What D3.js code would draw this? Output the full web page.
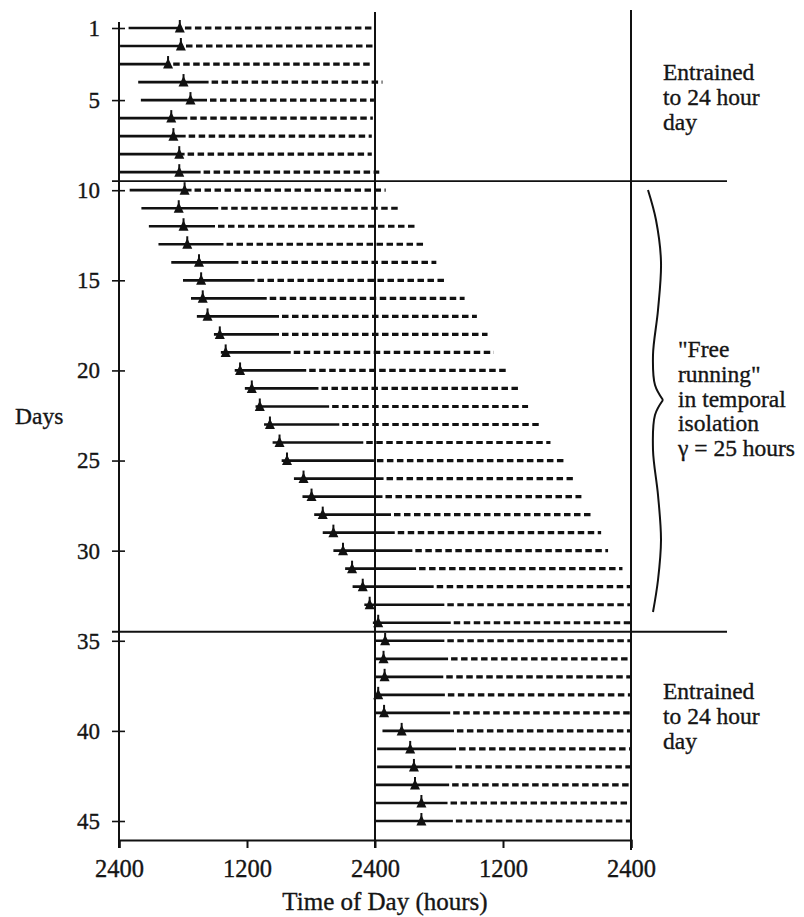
<!DOCTYPE html>
<html><head><meta charset="utf-8">
<script src="https://cdn.jsdelivr.net/npm/d3@7"></script>
<style>
body{margin:0;background:#fff}
text{font-family:"Liberation Serif","Times New Roman",serif;fill:#151515;stroke:#151515;stroke-width:0.35px}
</style>
</head><body>
<svg id="c" width="804" height="917"></svg>
<script>
// ---- data (hours after the left-hand 2400; 24 = middle 2400, 48 = right 2400) ----
const days = d3.range(1, 46);
const solidStart = [0.9,0.1,0,1.8,2.05,0,0,0,0,1.0,
  2.1,2.8,3.7,4.9,6.0,6.75,7.3,8.9,9.55,10.85,
  11.8,12.8,13.6,14.4,15.25,16.4,17.2,18.3,19.1,20.1,
  21.2,21.9,23.0,23.8,24,24,24,24,24,24.7,
  24.2,24.2,24,24,24];
const markerTime = [5.7,5.8,4.6,6.05,6.7,4.9,5.1,5.65,5.65,6.15,
  5.6,6.05,6.4,7.5,7.7,7.85,8.3,9.45,10.0,11.35,
  12.45,13.2,14.15,15.05,15.75,17.3,18.05,19.1,20.1,21.0,
  21.85,22.85,23.5,24.3,24.95,24.8,24.9,24.3,24.85,26.5,
  27.3,27.65,27.75,28.35,28.35];
const solidEnd = [5.9,6.0,4.8,8.4,8.25,6.4,6.25,6.15,7.65,6.8,
  9.3,9.0,9.8,11.2,12.7,13.85,15.0,15.0,16.1,17.55,
  18.7,19.7,20.65,22.9,23.9,24.8,24.7,25.5,25.85,27.5,
  27.85,29.5,30.5,31.1,30.5,30.85,30.4,30.55,31.05,31.4,
  31.6,31.25,30.95,30.8,31.3];
const dashEnd = [24,23.8,23.8,24.7,23.9,23.8,23.7,23.7,24.4,25.0,
  26.3,27.75,28.75,29.75,30.75,32.4,33.55,34.55,35.15,36.4,
  37.4,38.35,39.35,40.45,41.7,42.55,43.35,44.35,45.2,45.85,
  47.2,48,48,48,48,48,48,48,48,48,
  48,48,48,48,48];
const dayTicks = [1,5,10,15,20,25,30,35,40,45];
const hourTicks = [0,12,24,36,48];
const hourLabels = ["2400","1200","2400","1200","2400"];
const phaseBreaks = [9.5, 34.5];
const notesTop = ["Entrained","to 24 hour","day"];
const notesMid = ["\"Free","running\"","in temporal","isolation","\u03b3 = 25 hours"];
const notesBottom = ["Entrained","to 24 hour","day"];

// ---- scales ----
const x = d3.scaleLinear().domain([0,48]).range([119,631]);
const y = d3.scaleLinear().domain([1,45]).range([28,821]);
const svg = d3.select("#c");
const ink = "#111";
const axisY = 840;

// frame lines
svg.append("line").attr("x1",x(0)).attr("x2",x(0)).attr("y1",22).attr("y2",848)
  .attr("stroke",ink).attr("stroke-width",2);
svg.append("line").attr("x1",x(24)).attr("x2",x(24)).attr("y1",12).attr("y2",848)
  .attr("stroke",ink).attr("stroke-width",2);
svg.append("line").attr("x1",x(48)).attr("x2",x(48)).attr("y1",10).attr("y2",850)
  .attr("stroke",ink).attr("stroke-width",2);

// bottom axis
const xAxis = d3.axisBottom(x).tickValues(hourTicks)
  .tickFormat((d,i)=>hourLabels[i]).tickSize(8).tickPadding(12);
const gx = svg.append("g").attr("transform",`translate(0,${axisY})`).call(xAxis);
gx.select(".domain").attr("stroke",ink).attr("stroke-width",2.2);
gx.selectAll(".tick line").attr("stroke",ink).attr("stroke-width",2);
gx.selectAll(".tick text").attr("font-size",24.5)
  .attr("font-family","'Liberation Serif',serif").attr("fill","#151515");

// left axis
const yAxis = d3.axisLeft(y).tickValues(dayTicks).tickSize(7).tickPadding(12);
const gy = svg.append("g").attr("transform",`translate(${x(0)},0)`).call(yAxis);
gy.select(".domain").remove();
gy.selectAll(".tick line").attr("stroke",ink).attr("stroke-width",1.6).attr("x2",6).attr("x1",-7);
gy.selectAll(".tick text").attr("font-size",23)
  .attr("font-family","'Liberation Serif',serif").attr("fill","#151515");

// phase dividers
svg.selectAll(".div").data(phaseBreaks).join("line")
  .attr("x1",112).attr("x2",727)
  .attr("y1",d=>y(d)).attr("y2",d=>y(d))
  .attr("stroke",ink).attr("stroke-width",1.8);

// rows
const rows = days.map((d,i)=>({day:d,s:solidStart[i],m:markerTime[i],e:solidEnd[i],de:dashEnd[i]}));
const g = svg.append("g");
g.selectAll(".solid").data(rows).join("line")
  .attr("x1",r=>x(r.s)).attr("x2",r=>x(r.e))
  .attr("y1",r=>y(r.day)).attr("y2",r=>y(r.day))
  .attr("stroke",ink).attr("stroke-width",2.7);
g.selectAll(".dash").data(rows).join("line")
  .attr("x1",r=>x(r.e)+3).attr("x2",r=>x(r.de))
  .attr("y1",r=>y(r.day)).attr("y2",r=>y(r.day))
  .attr("stroke",ink).attr("stroke-width",3.2).attr("stroke-dasharray","6.5,3.5");
g.selectAll(".stem").data(rows).join("line")
  .attr("x1",r=>x(r.m)).attr("x2",r=>x(r.m))
  .attr("y1",r=>y(r.day)-8).attr("y2",r=>y(r.day))
  .attr("stroke",ink).attr("stroke-width",2);
g.selectAll(".tri").data(rows).join("path")
  .attr("d",r=>{const cx=x(r.m), cy=y(r.day);
    return `M${cx},${cy-6}L${cx+5},${cy+4.5}L${cx-5},${cy+4.5}Z`;})
  .attr("fill",ink);

// brace
const braceTop = [[648,190],[656,220],[661,262],[658,310],[653,355],[655,385],[663,400]];
const braceBot = [[663,400],[655,415],[653,450],[658,495],[661,540],[658,580],[653,612]];
const bl = d3.line().curve(d3.curveCatmullRom);
[braceTop, braceBot].forEach(p=>svg.append("path").attr("d",bl(p))
  .attr("fill","none").attr("stroke",ink).attr("stroke-width",2));

// annotations
function block(lines, x0, y0, dy){
  svg.append("g").selectAll("text").data(lines).join("text")
    .attr("x",x0).attr("y",(d,i)=>y0+i*dy).attr("font-size",23.5).text(d=>d);
}
block(notesTop, 663, 80, 25);
block(notesMid, 678, 357, 24.8);
block(notesBottom, 663, 699, 25);

// axis titles
svg.append("text").attr("x",15).attr("y",424).attr("font-size",23.5).text("Days");
svg.append("text").attr("x",385).attr("y",910).attr("text-anchor","middle")
  .attr("font-size",25).text("Time of Day (hours)");
</script>
</body></html>
